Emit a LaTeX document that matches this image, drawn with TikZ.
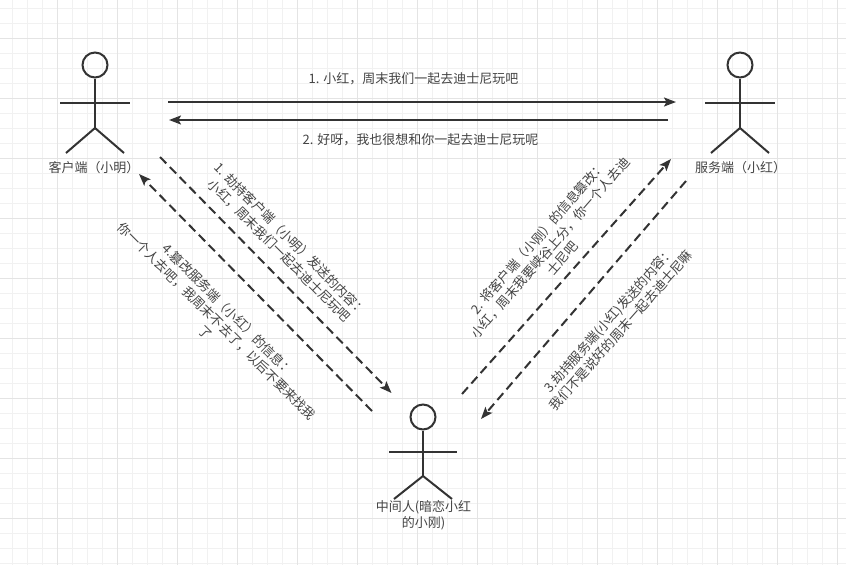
\documentclass[tikz,border=0pt]{standalone}
\usepackage{fontspec}
\setmainfont{Noto Sans CJK SC}
\usetikzlibrary{arrows.meta}
\definecolor{inkgrey}{HTML}{333333}
\definecolor{textgrey}{HTML}{444444}
\definecolor{gridminor}{HTML}{F1F1F1}
\definecolor{gridmajor}{HTML}{E4E4E4}
\tikzset{
  actorline/.style={draw=inkgrey,line width=2pt},
  solidarrow/.style={actorline,-{Stealth[length=12pt,width=9pt,inset=2.5pt]}},
  dasharrow/.style={solidarrow,dash pattern=on 9pt off 5pt},
  msglabel/.style={text=textgrey,font=\fontsize{13}{16}\selectfont,align=center,inner sep=0pt},
}
\begin{document}
\begin{tikzpicture}[x=1pt,y=-1pt]
\useasboundingbox (0,0) rectangle (846,565);

\foreach \gx in {0,...,56} {
  \draw[gridminor,line width=1pt] (12.5+15*\gx,0) -- (12.5+15*\gx,565);
}
\foreach \gy in {0,...,37} {
  \draw[gridminor,line width=1pt] (0,8.5+15*\gy) -- (846,8.5+15*\gy);
}
\foreach \gx in {0,...,13} {
  \draw[gridmajor,line width=1pt] (57.5+60*\gx,0) -- (57.5+60*\gx,565);
}
\foreach \gy in {0,...,8} {
  \draw[gridmajor,line width=1pt] (0,38.5+60*\gy) -- (846,38.5+60*\gy);
}

\begin{scope}[shift={(95,65)}]
\node[circle,actorline,minimum size=25pt,inner sep=0pt] (clientHead) at (0,0) {};
\draw[actorline] (clientHead.south) -- (0,63);
\draw[actorline] (-35,38) -- (35,38);
\draw[actorline] (-29,88) -- (0,63) -- (29,88);
\end{scope}
\begin{scope}[shift={(740,65)}]
\node[circle,actorline,minimum size=25pt,inner sep=0pt] (serverHead) at (0,0) {};
\draw[actorline] (serverHead.south) -- (0,63);
\draw[actorline] (-35,38) -- (35,38);
\draw[actorline] (-29,88) -- (0,63) -- (29,88);
\end{scope}
\begin{scope}[shift={(423,417)}]
\node[circle,actorline,minimum size=25pt,inner sep=0pt] (middleHead) at (0,0) {};
\draw[actorline] (middleHead.south) -- (0,59);
\draw[actorline] (-34,35) -- (34,35);
\draw[actorline] (-29,82) -- (0,59) -- (29,82);
\end{scope}

\node[msglabel] (clientName) at (94,168) {客户端（小明）};
\node[msglabel] (serverName) at (740.5,168) {服务端（小红）};
\node[msglabel] (middleName) at (423.5,515) {中间人(暗恋小红\\的小刚)};

\coordinate (topA) at (168,102);
\coordinate (topB) at (676,102);
\coordinate (replyA) at (668,120);
\coordinate (replyB) at (169,120);
\coordinate (hijackA) at (160,157);
\coordinate (hijackB) at (391.5,393);
\coordinate (tamperA) at (372,411);
\coordinate (tamperB) at (139,174);
\coordinate (forwardA) at (462,394);
\coordinate (forwardB) at (671,159);
\coordinate (backA) at (686,181);
\coordinate (backB) at (481,419);

\draw[solidarrow] (topA) -- (topB);
\draw[solidarrow] (replyA) -- (replyB);
\draw[dasharrow] (hijackA) -- (hijackB);
\draw[dasharrow] (tamperA) -- (tamperB);
\draw[dasharrow] (forwardA) -- (forwardB);
\draw[dasharrow] (backA) -- (backB);

\node[msglabel] (topMsg) at (413.5,79) {1. 小红，周末我们一起去迪士尼玩吧};
\node[msglabel] (replyMsg) at (420.5,140) {2. 好呀，我也很想和你一起去迪士尼玩呢};
\node[msglabel,rotate=-45] (hijackMsg) at (285,245) {1. 劫持客户端（小明）发送的内容：\\小红，周末我们一起去迪士尼玩吧};
\node[msglabel,rotate=-45] (tamperMsg) at (217,321) {4.篡改服务端（小红）的信息：\\你一个人去吧，我周末不去了，以后不要来找我\\了};
\node[msglabel,rotate=49] (forwardMsg) at (550,248) {2. 将客户端（小刚）的信息篡改：\\小红，周末我要峡谷上分，你一个人去迪\\士尼吧};
\node[msglabel,rotate=48.5] (backMsg) at (615,325) {3.劫持服务端(小红)发送的内容：\\我们不是说好的周末一起去迪士尼嘛};
\end{tikzpicture}
\end{document}
